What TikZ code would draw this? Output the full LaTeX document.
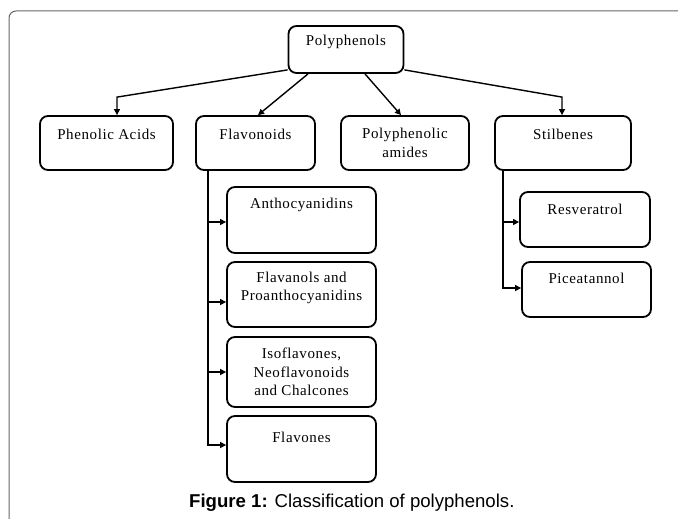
\documentclass[tikz,border=0pt]{standalone}
\usepackage{fontspec}
\setmainfont{Liberation Serif}[LetterSpace=4]
\newfontfamily\capfont{Liberation Sans}
\usetikzlibrary{arrows.meta,calc}
\begin{document}
\begin{tikzpicture}[x=1pt,y=-1pt,
  box/.style={draw=black, line width=1.8pt, rounded corners=8pt, inner sep=0pt},
  txt/.style={font=\fontsize{15}{18.5}\selectfont, align=center, inner sep=0pt},
  line/.style={draw=black, line width=1.4pt},
  arr/.style={line, -{Triangle[length=6pt,width=6pt]}},
  frame/.style={draw=black!60, line width=1pt, rounded corners=7pt}]
\useasboundingbox (0,0) rectangle (678,519);
\fill[white] (0,0) rectangle (678,519);
\draw[frame] (9,540) -- (9,11) -- (700,11);

% root
\node[box, minimum width=115pt, minimum height=47pt] (pp) at (346,49.5) {};
\node[txt] (ppt) at (346,42) {Polyphenols};

% second row
\node[box, minimum width=133pt, minimum height=54pt] (pa) at (106.5,143) {};
\node[txt] (pat) at (106.5,134) {Phenolic Acids};
\node[box, minimum width=119pt, minimum height=54pt] (fl) at (255.5,143) {};
\node[txt] (flt) at (255.5,134) {Flavonoids};
\node[box, minimum width=128pt, minimum height=54pt] (am) at (405,143) {};
\node[txt] (amt) at (405,143) {Polyphenolic\\amides};
\node[box, minimum width=136pt, minimum height=54pt] (st) at (563,143) {};
\node[txt] (stt) at (563,134) {Stilbenes};

% flavonoid children
\node[box, minimum width=149pt, minimum height=66pt] (an) at (301.5,220) {};
\node[txt] (ant) at (301.5,205) {Anthocyanidins};
\node[box, minimum width=149pt, minimum height=65pt] (fp) at (301.5,294.5) {};
\node[txt] (fpt) at (301.5,288) {Flavanols and\\Proanthocyanidins};
\node[box, minimum width=149pt, minimum height=70pt] (is) at (301.5,372) {};
\node[txt] (ist) at (301.5,372) {Isoflavones,\\Neoflavonoids\\and Chalcones};
\node[box, minimum width=149pt, minimum height=66pt] (fv) at (301.5,449) {};
\node[txt] (fvt) at (301.5,437) {Flavones};

% stilbene children
\node[box, minimum width=130pt, minimum height=55pt] (rs) at (585,219.5) {};
\node[txt] (rst) at (585,209) {Resveratrol};
\node[box, minimum width=129pt, minimum height=55pt] (pc) at (586.5,289.5) {};
\node[txt] (pct) at (586.5,278) {Piceatannol};

% caption
\node[font=\capfont\fontsize{18.6}{22}\selectfont, inner sep=0pt, anchor=west] (cap) at (189,503)
  {\textbf{Figure 1:} Classification of polyphenols.};

% root connectors
\coordinate (paBend) at ($(pa.north)+(10.5,-18)$);
\coordinate (stBend) at ($(st.north)+(-1,-18)$);
\draw[arr] ($(pp.south west)+(0,-4)$) -- (paBend) -- ($(pa.north)+(10.5,0)$);
\draw[arr] ($(pp.south)+(-38,0)$) -- ($(fl.north)+(2.5,0)$);
\draw[arr] ($(pp.south)+(19,0)$) -- ($(am.north)+(-4,0)$);
\draw[arr] ($(pp.south east)+(0,-4)$) -- (stBend) -- ($(st.north)+(-1,0)$);

% flavonoid trunk
\coordinate (flb) at ($(fl.south west)+(13,0)$);
\coordinate (anA) at (an.west |- 0,222);
\coordinate (fpA) at (fp.west |- 0,302);
\coordinate (isA) at (is.west |- 0,372);
\coordinate (fvA) at (fv.west |- 0,445);
\draw[arr] (flb) |- (fvA);
\draw[arr] (flb |- anA) -- (anA);
\draw[arr] (flb |- fpA) -- (fpA);
\draw[arr] (flb |- isA) -- (isA);

% stilbene trunk
\coordinate (stb) at ($(st.south west)+(9,0)$);
\coordinate (rsA) at (rs.west |- 0,222);
\coordinate (pcA) at (pc.west |- 0,288);
\draw[arr] (stb) |- (pcA);
\draw[arr] (stb |- rsA) -- (rsA);
\end{tikzpicture}
\end{document}
